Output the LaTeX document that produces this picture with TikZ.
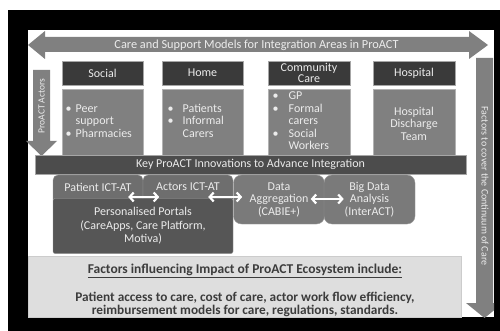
\documentclass[tikz,border=0pt]{standalone}
\usepackage{fontspec}
\setmainfont{Carlito}
\usetikzlibrary{arrows.meta,calc}
\definecolor{arrowgray}{RGB}{128,128,128}
\definecolor{headdark}{RGB}{58,58,58}
\definecolor{contgray}{RGB}{128,128,128}
\definecolor{keybar}{RGB}{76,76,76}
\definecolor{tabgray}{RGB}{110,110,110}
\definecolor{portgray}{RGB}{86,86,86}
\definecolor{datagray}{RGB}{122,122,122}
\definecolor{botgray}{RGB}{222,222,222}
\definecolor{lighttext}{RGB}{236,236,236}
\definecolor{darktext}{RGB}{60,60,60}
\tikzset{
  basefont/.style={font=\fontsize{12}{12.5}\selectfont},
  header/.style={fill=headdark, draw=gray!70, line width=0.4pt, minimum height=24pt, text=lighttext, basefont, align=center, inner sep=1pt},
  content/.style={fill=contgray, draw=gray!60, line width=0.4pt, minimum height=66pt, minimum width=81pt},
  ctext/.style={text=lighttext, basefont, inner sep=0pt},
  tabbox/.style={fill=tabgray, draw=gray!80, line width=0.4pt, rounded corners=5pt, minimum width=90pt, minimum height=29pt, text=lighttext, basefont, inner sep=0pt},
  databox/.style={fill=datagray, draw=gray!80, line width=0.4pt, rounded corners=8pt, minimum height=49pt, text=lighttext, basefont, align=center, inner sep=0pt},
  dblarrow/.style={white, line width=2.2pt, {Straight Barb[length=4pt,width=9pt]}-{Straight Barb[length=4pt,width=9pt]}},
}
\begin{document}
\begin{tikzpicture}[x=1pt,y=-1pt]
\useasboundingbox (0,0) rectangle (500,331);
\fill[white] (0,0) rectangle (500,331);
\fill[black] (8,10) rectangle (500,331);
\fill[white] (28,30) rectangle (494,317);

% top double arrow
\fill[arrowgray] (28,45) -- (45,31) -- (45,37) -- (469,37) -- (469,31) -- (488,45) -- (469,59) -- (469,52) -- (45,52) -- (45,59) -- cycle;
\node[text=lighttext, font=\fontsize{12.3}{13}\selectfont, inner sep=0pt] (toplabel) at (256.5,45) {Care and Support Models for Integration Areas in ProACT};

% left arrow
\fill[arrowgray] (33,70) -- (50,70) -- (50,141) -- (57,141) -- (41.5,156) -- (26,141) -- (33,141) -- cycle;
\node[rotate=90, text=lighttext, font=\fontsize{9.5}{10}\selectfont, inner sep=0pt] (actors) at (41.5,106) {ProACT Actors};

% right arrow
\begin{scope}
\clip (28,30) rectangle (494,317);
\fill[arrowgray] (476,58) -- (493,58) -- (493,303) -- (503,303) -- (484.5,318) -- (466,303) -- (476,303) -- cycle;
\end{scope}
\node[rotate=-90, text=lighttext, font=\fontsize{10}{11}\selectfont, inner sep=0pt] (continuum) at (485,186) {Factors to cover the Continuum of Care};

% headers
\node[header, minimum width=81pt] (social) at (102.5,73) {Social};
\node[header, minimum width=81pt] (home) at (202.5,73) {Home};
\node[header, minimum width=82pt, font=\fontsize{12}{11.5}\selectfont] (community) at (309,73) {Community\\Care};
\node[header, minimum width=82pt] (hospital) at (414,73) {Hospital};

% contents
\node[content] (socialc) at (102.5,122) {};
\node[content] (homec) at (202.5,122) {};
\node[content, minimum width=82pt] (communityc) at (309,122) {};
\node[content, minimum width=82pt] (hospitalc) at (414,122) {};

\node[ctext, anchor=north west] (socialt) at (65.5,103.5) {\begin{tabular}{@{}l@{\hspace{4pt}}l@{}}•&Peer\\&support\\•&Pharmacies\end{tabular}};
\node[ctext, anchor=north west] (homet) at (167.5,103.5) {\begin{tabular}{@{}l@{\hspace{9pt}}l@{}}•&Patients\\•&Informal\\&Carers\end{tabular}};
\node[ctext, anchor=north west] (communityt) at (272.5,91) {\begin{tabular}{@{}l@{\hspace{10pt}}l@{}}•&GP\\•&Formal\\&carers\\•&Social\\&Workers\end{tabular}};
\node[ctext, align=center] (hospitalt) at (414,123.5) {Hospital\\Discharge\\Team};

% key bar
\node[fill=keybar, draw=gray!70, line width=0.4pt, minimum width=431pt, minimum height=19pt, text=lighttext, basefont, inner sep=0pt] (keybar) at (250.5,164.5) {Key ProACT Innovations to Advance Integration};

% tabs and portals
\node[tabbox] (patient) at (98,189.5) {};
\node[tabbox] (actorsict) at (188,189.5) {};
\node[fill=portgray, draw=gray!80, line width=0.4pt, minimum width=180pt, minimum height=55pt, rounded corners=2pt, text=lighttext, font=\fontsize{12}{13.5}\selectfont, align=center, inner sep=0pt] (portals) at (143,226) {Personalised Portals\\(CareApps, Care Platform,\\Motiva)};
\node[text=lighttext, basefont, inner sep=0pt] (patientt) at (98,187) {Patient ICT-AT};
\node[text=lighttext, basefont, inner sep=0pt] (actorst) at (188,187) {Actors ICT-AT};

% data boxes
\node[databox, minimum width=91pt] (dataagg) at (279,199.5) {Data\\Aggregation\\(CABIE+)};
\node[databox, minimum width=91pt] (bigdata) at (369.5,199.5) {Big Data\\Analysis\\(InterACT)};

% double arrows
\coordinate (a1l) at ($(patient.east)+(-15,7.5)$);
\coordinate (a1r) at ($(patient.east)+(16,7.5)$);
\draw[dblarrow] (a1l) -- (a1r);
\coordinate (a2l) at ($(actorsict.east)+(-25,7.5)$);
\coordinate (a2r) at ($(actorsict.east)+(9,7.5)$);
\draw[dblarrow] (a2l) -- (a2r);
\coordinate (a3l) at ($(dataagg.east)+(-14,-0.5)$);
\coordinate (a3r) at ($(dataagg.east)+(19,-0.5)$);
\draw[dblarrow] (a3l) -- (a3r);

% bottom box
\node[fill=botgray, draw=gray!40, line width=0.4pt, minimum width=433pt, minimum height=61pt] (factors) at (244.5,286.5) {};
\node[text=darktext, font=\fontsize{13.5}{14}\selectfont\bfseries, inner sep=0pt] (factorstitle) at (245,271) {\underline{Factors influencing Impact of ProACT Ecosystem include:}};
\node[text=darktext, font=\fontsize{13.3}{13}\selectfont\bfseries, align=center, inner sep=0pt] (factorstext) at (245,304.5) {Patient access to care, cost of care, actor work flow efficiency,\\reimbursement models for care, regulations, standards.};
\end{tikzpicture}
\end{document}
